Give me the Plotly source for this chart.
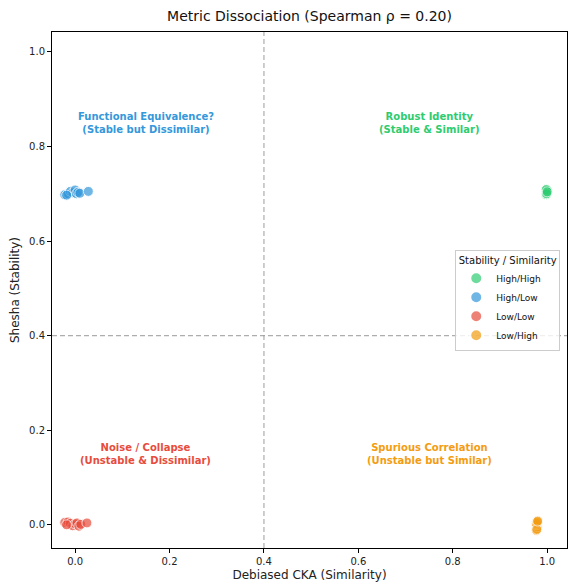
import plotly.graph_objects as go

# Data
hh_x = [0.998, 0.999, 1.0, 0.999, 1.0, 0.998, 0.999, 1.0]
hh_y = [0.698, 0.701, 0.703, 0.705, 0.707, 0.709, 0.700, 0.704]

hl_x = [-0.022, -0.015, -0.010, -0.005, 0.000, 0.003, 0.006, -0.018, 0.010, 0.028]
hl_y = [0.698, 0.700, 0.705, 0.702, 0.708, 0.700, 0.703, 0.697, 0.701, 0.705]

ll_x = [-0.022, -0.015, -0.010, -0.005, 0.000, 0.004, 0.008, 0.012, -0.018, 0.025]
ll_y = [0.005, 0.006, 0.003, -0.002, 0.002, 0.004, -0.003, 0.001, 0.000, 0.004]

lh_x = [0.977, 0.978, 0.979, 0.978, 0.977, 0.979, 0.978, 0.980]
lh_y = [-0.012, -0.008, -0.004, 0.000, 0.003, 0.006, -0.010, 0.008]

groups = ["High/High", "High/Low", "Low/Low", "Low/High"]
colors = ["#2ecc71", "#3498db", "#e74c3c", "#f39c12"]
xs = [hh_x, hl_x, ll_x, lh_x]
ys = [hh_y, hl_y, ll_y, lh_y]

quad_text = [
    "Robust Identity<br>(Stable & Similar)",
    "Functional Equivalence?<br>(Stable but Dissimilar)",
    "Noise / Collapse<br>(Unstable & Dissimilar)",
    "Spurious Correlation<br>(Unstable but Similar)",
]
quad_x = [0.75, 0.15, 0.15, 0.75]
quad_y = [0.85, 0.85, 0.15, 0.15]
threshold = 0.4

font = "DejaVu Sans"
fig = go.Figure()
for g, c, x, y in zip(groups, colors, xs, ys):
    fig.add_trace(go.Scatter(
        x=x, y=y, mode="markers", name=g,
        marker=dict(color=c, size=10, opacity=0.7, line=dict(color="white", width=1)),
    ))

fig.add_vline(x=threshold, line=dict(color="#999999", width=1.2, dash="5px,3px"), opacity=0.8)
fig.add_hline(y=threshold, line=dict(color="#999999", width=1.2, dash="5px,3px"), opacity=0.8)

for t, c, x, y in zip(quad_text, colors, quad_x, quad_y):
    fig.add_annotation(x=x, y=y, text="<b>" + t + "</b>", showarrow=False,
                       font=dict(family=font, size=10, color=c), align="center")

axis_common = dict(
    showgrid=False, zeroline=False, showline=True, linecolor="black", linewidth=1,
    mirror=True, ticks="outside", ticklen=4, tickcolor="black",
    tickfont=dict(family=font, size=10, color="#222"),
    tickformat=".1f", dtick=0.2,
)
fig.update_xaxes(range=[-0.049, 1.042], title=dict(text="Debiased CKA (Similarity)",
                 font=dict(family=font, size=12, color="#222"), standoff=4), **axis_common)
fig.update_yaxes(range=[-0.049, 1.042], title=dict(text="Shesha (Stability)",
                 font=dict(family=font, size=12, color="#222"), standoff=6), **axis_common)

fig.update_layout(
    width=568, height=584,
    margin=dict(l=52, r=1, t=32, b=36),
    plot_bgcolor="white", paper_bgcolor="white",
    title=dict(text="Metric Dissociation (Spearman ρ = 0.20)", x=0.545, xanchor="center",
               y=0.973, yanchor="middle", font=dict(family=font, size=14, color="#111")),
    legend=dict(
        title=dict(text="Stability / Similarity", font=dict(family=font, size=10, color="#111"), side="top center"),
        font=dict(family=font, size=9, color="#111"),
        x=0.783, y=0.578, xanchor="left", yanchor="top",
        bordercolor="#cccccc", borderwidth=1, bgcolor="rgba(255,255,255,0.8)",
        itemsizing="constant", tracegroupgap=0,
    ),
)

fig.write_html("out.html")
